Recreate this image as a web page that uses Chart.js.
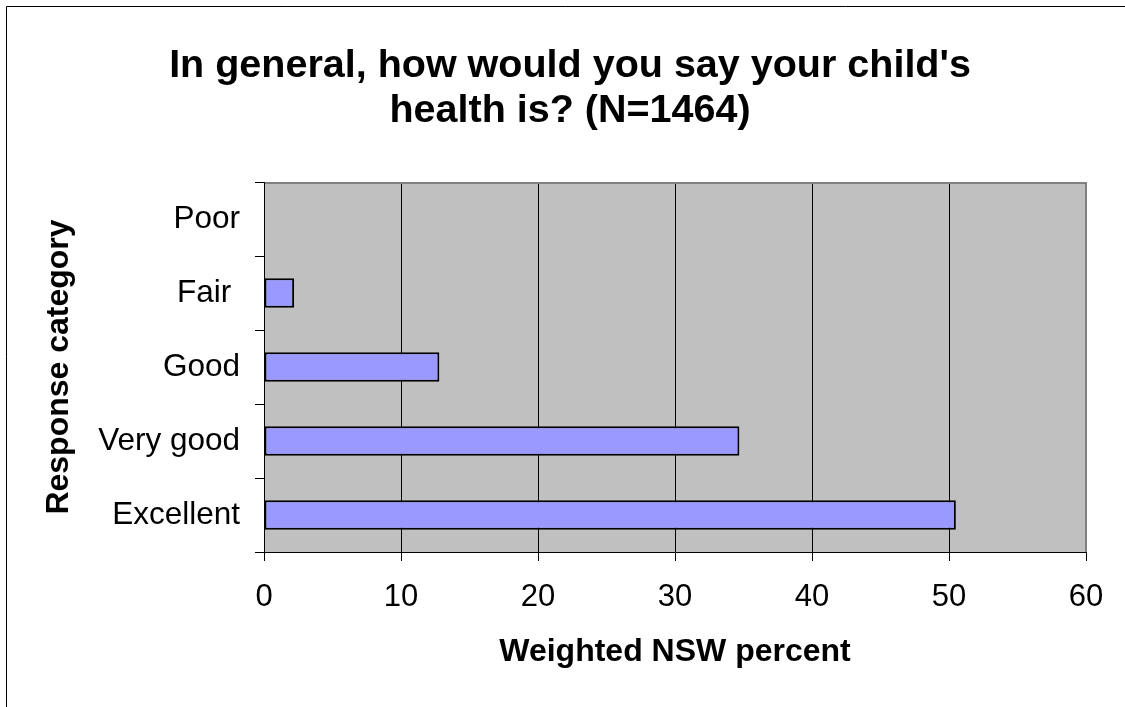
<!DOCTYPE html>
<html>
<head>
<meta charset="utf-8">
<script src="https://cdn.jsdelivr.net/npm/chart.js@4.4.1/dist/chart.umd.min.js"></script>
<style>
  html, body { margin: 0; padding: 0; background: #ffffff; overflow: hidden; }
  #wrap { width: 1125px; height: 707px; position: relative; overflow: hidden; }
  #c { display: block; }
</style>
</head>
<body>
<div id="wrap"><canvas id="c" width="1125" height="707"></canvas></div>
<script>
// ---- data ----
const categories = ['Poor', 'Fair ', 'Good', 'Very good', 'Excellent'];
const percents = [0, 2.2, 12.8, 34.7, 50.5];
const xTicks = [0, 10, 20, 30, 40, 50, 60];
const titleLines = ["In general, how would you say your child's", "health is? (N=1464)"];
const xAxisTitle = 'Weighted NSW percent';
const yAxisTitle = 'Response category';

const FAMILY = '"Liberation Sans", Arial, Helvetica, sans-serif';

const framePlugin = {
  id: 'frame',
  beforeDraw(chart) {
    const { ctx, chartArea: a } = chart;
    ctx.save();
    ctx.fillStyle = '#ffffff';
    ctx.fillRect(0, 0, chart.width, chart.height);
    ctx.fillStyle = '#C0C0C0';
    ctx.fillRect(a.left, a.top, a.right - a.left, a.bottom - a.top);
    ctx.restore();
  },
  afterDraw(chart) {
    const { ctx, chartArea: a } = chart;
    ctx.save();
    // plot area top and right borders (grey)
    ctx.strokeStyle = '#808080';
    ctx.lineWidth = 2;
    ctx.beginPath();
    ctx.moveTo(a.left + 1, Math.round(a.top) + 1);
    ctx.lineTo(Math.round(a.right), Math.round(a.top) + 1);
    ctx.lineTo(Math.round(a.right), Math.round(a.bottom));
    ctx.stroke();
    // keep the right margin clean
    ctx.fillStyle = '#ffffff';
    ctx.fillRect(chart.width - 4, 0, 4, chart.height);
    // outer chart frame: only left and top edges are within the picture
    ctx.strokeStyle = '#000000';
    ctx.lineWidth = 1;
    ctx.beginPath();
    ctx.moveTo(6.5, chart.height);
    ctx.lineTo(6.5, 6.5);
    ctx.lineTo(chart.width, 6.5);
    ctx.stroke();
    ctx.restore();
  }
};

new Chart(document.getElementById('c'), {
  type: 'bar',
  data: {
    labels: categories,
    datasets: [{
      data: percents,
      backgroundColor: '#9999FF',
      borderColor: '#000000',
      borderWidth: 2,
      borderSkipped: false,
      categoryPercentage: 1,
      barPercentage: 0.4
    }]
  },
  options: {
    indexAxis: 'y',
    responsive: false,
    animation: false,
    devicePixelRatio: 1,
    layout: { padding: { left: 15, right: 0, top: 0, bottom: 0 } },
    plugins: {
      legend: { display: false },
      tooltip: { enabled: false },
      title: {
        display: true,
        text: titleLines,
        color: '#000000',
        font: { family: FAMILY, size: 39.5, weight: 'bold', lineHeight: '45px' },
        padding: { top: 43.5, bottom: 48.5 }
      }
    },
    scales: {
      x: {
        type: 'linear',
        position: 'bottom',
        min: 0,
        max: 60,
        afterBuildTicks: s => { s.ticks = xTicks.map(v => ({ value: v })); },
        ticks: { color: '#000000', font: { family: FAMILY, size: 31 }, padding: 18, maxRotation: 0 },
        grid: {
          color: c => (c.tick && c.tick.value === 60) ? '#808080' : '#000000',
          lineWidth: 1,
          drawTicks: true,
          tickLength: 9,
          tickColor: '#000000'
        },
        border: { display: true, color: '#000000', width: 1 },
        title: {
          display: true,
          text: xAxisTitle,
          color: '#000000',
          font: { family: FAMILY, size: 32, weight: 'bold' },
          padding: { top: 0, bottom: 35.8 }
        },
        afterFit: s => { s.height = 155; }
      },
      y: {
        position: 'left',
        ticks: { color: '#000000', font: { family: FAMILY, size: 31.5 }, padding: 15 },
        grid: { drawOnChartArea: false, offset: true, drawTicks: true, tickLength: 9, tickColor: '#000000' },
        border: { display: true, color: '#000000', width: 1 },
        title: {
          display: true,
          text: yAxisTitle,
          color: '#000000',
          font: { family: FAMILY, size: 32, weight: 'bold' },
          padding: { top: 24.8, bottom: 0 }
        },
        afterFit: s => { s.width = 249; }
      },
      y2: {
        type: 'linear',
        position: 'right',
        display: true,
        grid: { display: false },
        ticks: { display: false },
        border: { display: false },
        afterFit: s => { s.width = 39; }
      }
    }
  },
  plugins: [framePlugin]
});
</script>
</body>
</html>
